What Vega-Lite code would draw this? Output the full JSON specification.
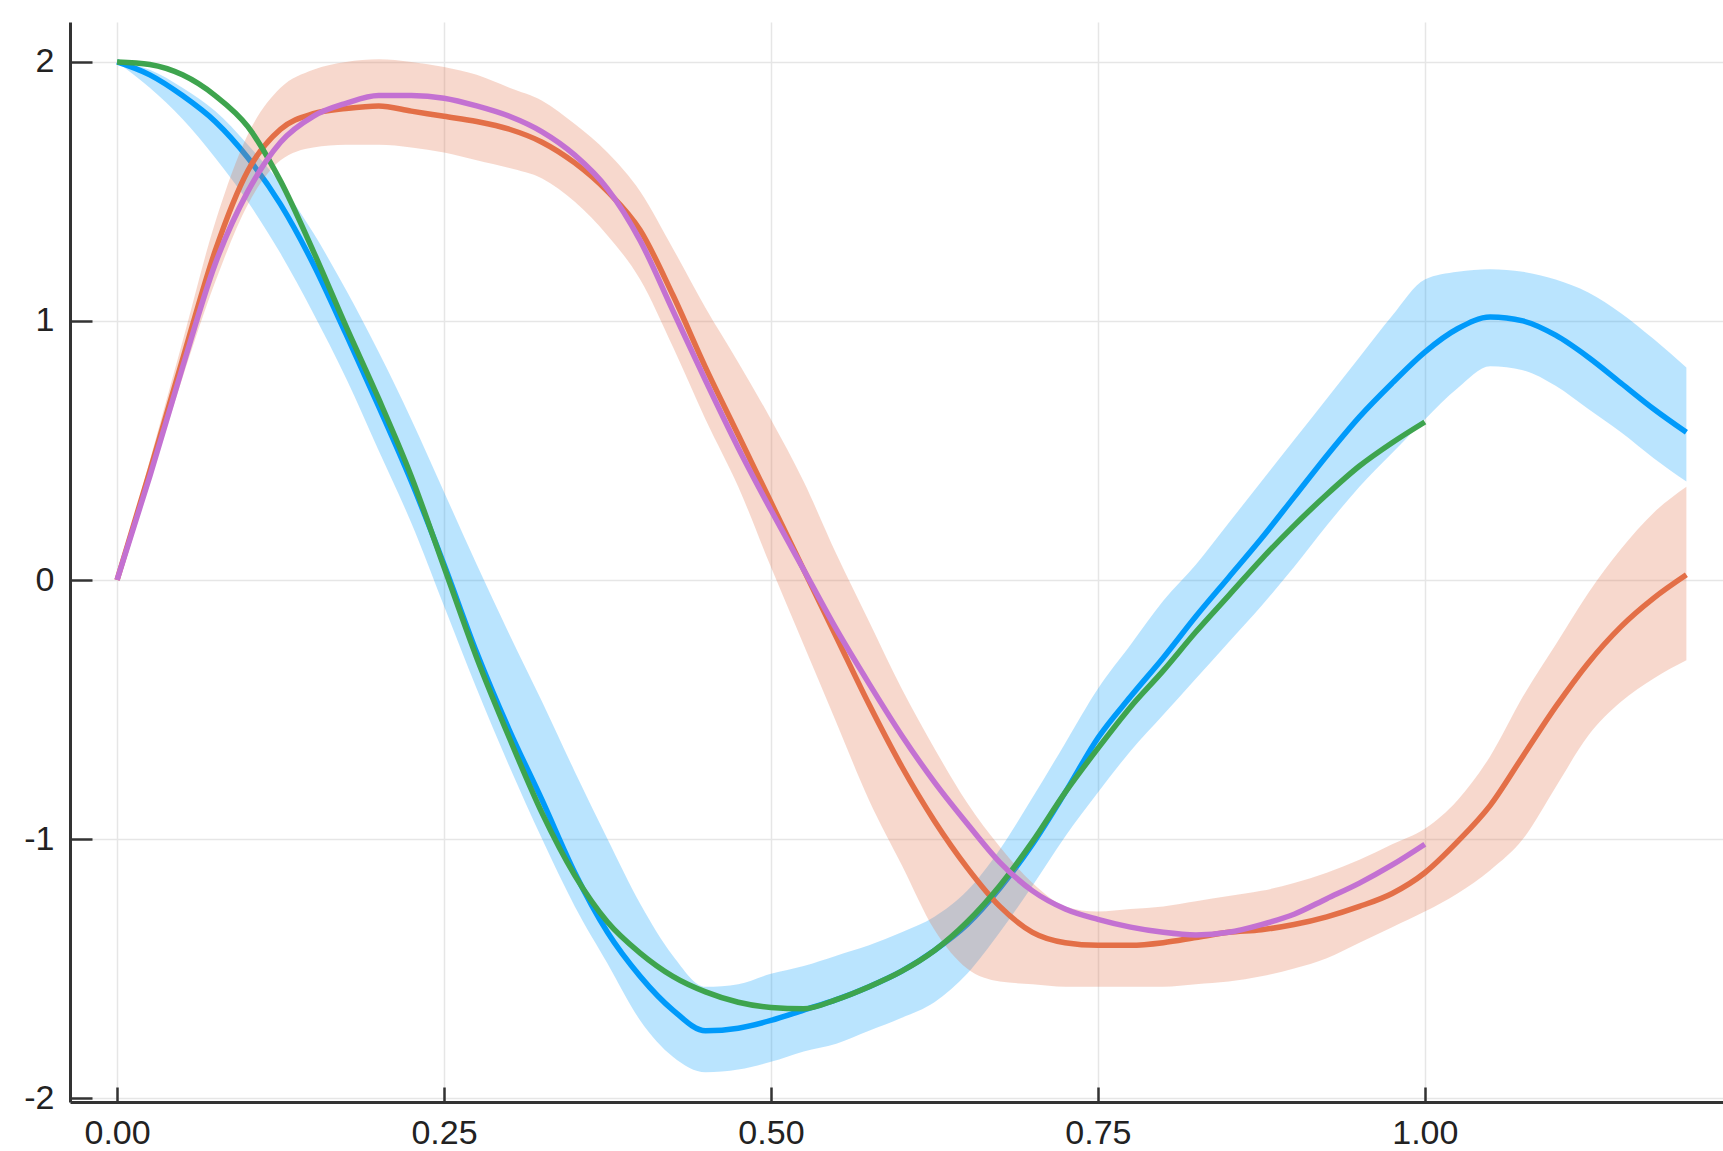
{
  "$schema": "https://vega.github.io/schema/vega-lite/v6.json",
  "autosize": {"type": "none"},
  "width": 1653,
  "height": 1080,
  "padding": {"left": 70, "top": 22, "right": 0, "bottom": 49},
  "background": "white",
  "config": {
    "view": {"stroke": null},
    "axis": {
      "title": null,
      "labelFont": "Liberation Sans",
      "labelFontSize": 34,
      "labelColor": "#222222",
      "domainColor": "#333333",
      "domainWidth": 3,
      "tickColor": "#333333",
      "tickWidth": 2.5,
      "gridColor": "#e6e6e6",
      "gridWidth": 1.5,
      "labelFlush": false,
      "labelOverlap": false
    }
  },
  "datasets": {
    "ens": [
      {"s":"u1","t":0.000,"m":2.00,"lo":2.00,"hi":2.00},
      {"s":"u1","t":0.025,"m":1.95,"lo":1.90,"hi":1.97},
      {"s":"u1","t":0.050,"m":1.87,"lo":1.78,"hi":1.90},
      {"s":"u1","t":0.075,"m":1.77,"lo":1.63,"hi":1.81},
      {"s":"u1","t":0.100,"m":1.63,"lo":1.46,"hi":1.68},
      {"s":"u1","t":0.125,"m":1.45,"lo":1.26,"hi":1.53},
      {"s":"u1","t":0.150,"m":1.22,"lo":1.03,"hi":1.34},
      {"s":"u1","t":0.175,"m":0.95,"lo":0.78,"hi":1.12},
      {"s":"u1","t":0.200,"m":0.67,"lo":0.50,"hi":0.88},
      {"s":"u1","t":0.225,"m":0.38,"lo":0.22,"hi":0.62},
      {"s":"u1","t":0.250,"m":0.06,"lo":-0.10,"hi":0.34},
      {"s":"u1","t":0.275,"m":-0.28,"lo":-0.42,"hi":0.06},
      {"s":"u1","t":0.300,"m":-0.58,"lo":-0.72,"hi":-0.21},
      {"s":"u1","t":0.325,"m":-0.85,"lo":-1.00,"hi":-0.47},
      {"s":"u1","t":0.350,"m":-1.13,"lo":-1.26,"hi":-0.74},
      {"s":"u1","t":0.375,"m":-1.36,"lo":-1.48,"hi":-1.00},
      {"s":"u1","t":0.400,"m":-1.53,"lo":-1.70,"hi":-1.25},
      {"s":"u1","t":0.425,"m":-1.66,"lo":-1.84,"hi":-1.45},
      {"s":"u1","t":0.450,"m":-1.74,"lo":-1.90,"hi":-1.57},
      {"s":"u1","t":0.475,"m":-1.73,"lo":-1.89,"hi":-1.56},
      {"s":"u1","t":0.500,"m":-1.70,"lo":-1.86,"hi":-1.52},
      {"s":"u1","t":0.525,"m":-1.66,"lo":-1.82,"hi":-1.49},
      {"s":"u1","t":0.550,"m":-1.62,"lo":-1.79,"hi":-1.45},
      {"s":"u1","t":0.575,"m":-1.57,"lo":-1.74,"hi":-1.41},
      {"s":"u1","t":0.600,"m":-1.51,"lo":-1.69,"hi":-1.36},
      {"s":"u1","t":0.625,"m":-1.43,"lo":-1.63,"hi":-1.30},
      {"s":"u1","t":0.650,"m":-1.33,"lo":-1.52,"hi":-1.20},
      {"s":"u1","t":0.675,"m":-1.19,"lo":-1.36,"hi":-1.04},
      {"s":"u1","t":0.700,"m":-1.02,"lo":-1.18,"hi":-0.84},
      {"s":"u1","t":0.725,"m":-0.82,"lo":-0.99,"hi":-0.63},
      {"s":"u1","t":0.750,"m":-0.61,"lo":-0.82,"hi":-0.42},
      {"s":"u1","t":0.775,"m":-0.45,"lo":-0.66,"hi":-0.25},
      {"s":"u1","t":0.800,"m":-0.30,"lo":-0.52,"hi":-0.08},
      {"s":"u1","t":0.825,"m":-0.14,"lo":-0.38,"hi":0.06},
      {"s":"u1","t":0.850,"m":0.01,"lo":-0.24,"hi":0.22},
      {"s":"u1","t":0.875,"m":0.16,"lo":-0.10,"hi":0.38},
      {"s":"u1","t":0.900,"m":0.32,"lo":0.05,"hi":0.54},
      {"s":"u1","t":0.925,"m":0.48,"lo":0.21,"hi":0.70},
      {"s":"u1","t":0.950,"m":0.63,"lo":0.36,"hi":0.86},
      {"s":"u1","t":0.975,"m":0.76,"lo":0.49,"hi":1.02},
      {"s":"u1","t":1.000,"m":0.88,"lo":0.62,"hi":1.16},
      {"s":"u1","t":1.025,"m":0.97,"lo":0.74,"hi":1.19},
      {"s":"u1","t":1.050,"m":1.015,"lo":0.825,"hi":1.20},
      {"s":"u1","t":1.075,"m":1.00,"lo":0.81,"hi":1.19},
      {"s":"u1","t":1.100,"m":0.945,"lo":0.75,"hi":1.16},
      {"s":"u1","t":1.125,"m":0.86,"lo":0.66,"hi":1.11},
      {"s":"u1","t":1.150,"m":0.76,"lo":0.57,"hi":1.03},
      {"s":"u1","t":1.175,"m":0.66,"lo":0.47,"hi":0.93},
      {"s":"u1","t":1.200,"m":0.57,"lo":0.38,"hi":0.82},
      {"s":"u2","t":0.000,"m":0.00,"lo":0.00,"hi":0.00},
      {"s":"u2","t":0.025,"m":0.42,"lo":0.38,"hi":0.46},
      {"s":"u2","t":0.050,"m":0.85,"lo":0.78,"hi":0.92},
      {"s":"u2","t":0.075,"m":1.27,"lo":1.15,"hi":1.38},
      {"s":"u2","t":0.100,"m":1.58,"lo":1.45,"hi":1.72},
      {"s":"u2","t":0.125,"m":1.74,"lo":1.62,"hi":1.90},
      {"s":"u2","t":0.150,"m":1.80,"lo":1.67,"hi":1.97},
      {"s":"u2","t":0.175,"m":1.82,"lo":1.68,"hi":2.00},
      {"s":"u2","t":0.200,"m":1.83,"lo":1.68,"hi":2.01},
      {"s":"u2","t":0.225,"m":1.81,"lo":1.67,"hi":2.00},
      {"s":"u2","t":0.250,"m":1.79,"lo":1.65,"hi":1.98},
      {"s":"u2","t":0.275,"m":1.77,"lo":1.62,"hi":1.95},
      {"s":"u2","t":0.300,"m":1.74,"lo":1.59,"hi":1.90},
      {"s":"u2","t":0.325,"m":1.69,"lo":1.55,"hi":1.85},
      {"s":"u2","t":0.350,"m":1.61,"lo":1.46,"hi":1.76},
      {"s":"u2","t":0.375,"m":1.50,"lo":1.33,"hi":1.65},
      {"s":"u2","t":0.400,"m":1.35,"lo":1.16,"hi":1.50},
      {"s":"u2","t":0.425,"m":1.10,"lo":0.90,"hi":1.28},
      {"s":"u2","t":0.450,"m":0.82,"lo":0.62,"hi":1.05},
      {"s":"u2","t":0.475,"m":0.56,"lo":0.36,"hi":0.84},
      {"s":"u2","t":0.500,"m":0.30,"lo":0.05,"hi":0.62},
      {"s":"u2","t":0.525,"m":0.04,"lo":-0.25,"hi":0.38},
      {"s":"u2","t":0.550,"m":-0.22,"lo":-0.55,"hi":0.10},
      {"s":"u2","t":0.575,"m":-0.48,"lo":-0.85,"hi":-0.16},
      {"s":"u2","t":0.600,"m":-0.72,"lo":-1.10,"hi":-0.42},
      {"s":"u2","t":0.625,"m":-0.93,"lo":-1.35,"hi":-0.65},
      {"s":"u2","t":0.650,"m":-1.11,"lo":-1.50,"hi":-0.86},
      {"s":"u2","t":0.675,"m":-1.26,"lo":-1.55,"hi":-1.03},
      {"s":"u2","t":0.700,"m":-1.36,"lo":-1.56,"hi":-1.17},
      {"s":"u2","t":0.725,"m":-1.40,"lo":-1.57,"hi":-1.26},
      {"s":"u2","t":0.750,"m":-1.41,"lo":-1.57,"hi":-1.28},
      {"s":"u2","t":0.775,"m":-1.41,"lo":-1.57,"hi":-1.27},
      {"s":"u2","t":0.800,"m":-1.40,"lo":-1.57,"hi":-1.26},
      {"s":"u2","t":0.825,"m":-1.38,"lo":-1.56,"hi":-1.24},
      {"s":"u2","t":0.850,"m":-1.36,"lo":-1.55,"hi":-1.22},
      {"s":"u2","t":0.875,"m":-1.35,"lo":-1.53,"hi":-1.20},
      {"s":"u2","t":0.900,"m":-1.33,"lo":-1.50,"hi":-1.17},
      {"s":"u2","t":0.925,"m":-1.30,"lo":-1.46,"hi":-1.13},
      {"s":"u2","t":0.950,"m":-1.26,"lo":-1.40,"hi":-1.08},
      {"s":"u2","t":0.975,"m":-1.21,"lo":-1.34,"hi":-1.02},
      {"s":"u2","t":1.000,"m":-1.13,"lo":-1.28,"hi":-0.96},
      {"s":"u2","t":1.025,"m":-1.01,"lo":-1.21,"hi":-0.85},
      {"s":"u2","t":1.050,"m":-0.87,"lo":-1.12,"hi":-0.68},
      {"s":"u2","t":1.075,"m":-0.68,"lo":-1.00,"hi":-0.45},
      {"s":"u2","t":1.100,"m":-0.49,"lo":-0.80,"hi":-0.25},
      {"s":"u2","t":1.125,"m":-0.32,"lo":-0.60,"hi":-0.05},
      {"s":"u2","t":1.150,"m":-0.18,"lo":-0.47,"hi":0.12},
      {"s":"u2","t":1.175,"m":-0.07,"lo":-0.38,"hi":0.26},
      {"s":"u2","t":1.200,"m":0.02,"lo":-0.31,"hi":0.36}
    ],
    "truth": [
      {"s":"u1","t":0.000,"v":2.00},{"s":"u1","t":0.025,"v":1.99},{"s":"u1","t":0.050,"v":1.95},
      {"s":"u1","t":0.075,"v":1.87},{"s":"u1","t":0.100,"v":1.75},{"s":"u1","t":0.125,"v":1.54},
      {"s":"u1","t":0.150,"v":1.27},{"s":"u1","t":0.175,"v":0.98},{"s":"u1","t":0.200,"v":0.70},
      {"s":"u1","t":0.225,"v":0.40},{"s":"u1","t":0.250,"v":0.05},{"s":"u1","t":0.275,"v":-0.30},
      {"s":"u1","t":0.300,"v":-0.61},{"s":"u1","t":0.325,"v":-0.90},{"s":"u1","t":0.350,"v":-1.14},
      {"s":"u1","t":0.375,"v":-1.32},{"s":"u1","t":0.400,"v":-1.44},{"s":"u1","t":0.425,"v":-1.53},
      {"s":"u1","t":0.450,"v":-1.59},{"s":"u1","t":0.475,"v":-1.63},{"s":"u1","t":0.500,"v":-1.65},
      {"s":"u1","t":0.525,"v":-1.655},{"s":"u1","t":0.550,"v":-1.62},{"s":"u1","t":0.575,"v":-1.57},
      {"s":"u1","t":0.600,"v":-1.51},{"s":"u1","t":0.625,"v":-1.43},{"s":"u1","t":0.650,"v":-1.32},
      {"s":"u1","t":0.675,"v":-1.18},{"s":"u1","t":0.700,"v":-1.01},{"s":"u1","t":0.725,"v":-0.82},
      {"s":"u1","t":0.750,"v":-0.65},{"s":"u1","t":0.775,"v":-0.49},{"s":"u1","t":0.800,"v":-0.35},
      {"s":"u1","t":0.825,"v":-0.20},{"s":"u1","t":0.850,"v":-0.06},{"s":"u1","t":0.875,"v":0.08},
      {"s":"u1","t":0.900,"v":0.21},{"s":"u1","t":0.925,"v":0.33},{"s":"u1","t":0.950,"v":0.44},
      {"s":"u1","t":0.975,"v":0.53},{"s":"u1","t":1.000,"v":0.61},
      {"s":"u2","t":0.000,"v":0.00},{"s":"u2","t":0.025,"v":0.40},{"s":"u2","t":0.050,"v":0.82},
      {"s":"u2","t":0.075,"v":1.22},{"s":"u2","t":0.100,"v":1.50},{"s":"u2","t":0.125,"v":1.69},
      {"s":"u2","t":0.150,"v":1.79},{"s":"u2","t":0.175,"v":1.84},{"s":"u2","t":0.200,"v":1.87},
      {"s":"u2","t":0.225,"v":1.87},{"s":"u2","t":0.250,"v":1.86},{"s":"u2","t":0.275,"v":1.83},
      {"s":"u2","t":0.300,"v":1.79},{"s":"u2","t":0.325,"v":1.73},{"s":"u2","t":0.350,"v":1.64},
      {"s":"u2","t":0.375,"v":1.51},{"s":"u2","t":0.400,"v":1.31},{"s":"u2","t":0.425,"v":1.04},
      {"s":"u2","t":0.450,"v":0.77},{"s":"u2","t":0.475,"v":0.51},{"s":"u2","t":0.500,"v":0.27},
      {"s":"u2","t":0.525,"v":0.04},{"s":"u2","t":0.550,"v":-0.19},{"s":"u2","t":0.575,"v":-0.40},
      {"s":"u2","t":0.600,"v":-0.60},{"s":"u2","t":0.625,"v":-0.78},{"s":"u2","t":0.650,"v":-0.94},
      {"s":"u2","t":0.675,"v":-1.09},{"s":"u2","t":0.700,"v":-1.20},{"s":"u2","t":0.725,"v":-1.27},
      {"s":"u2","t":0.750,"v":-1.31},{"s":"u2","t":0.775,"v":-1.34},{"s":"u2","t":0.800,"v":-1.36},
      {"s":"u2","t":0.825,"v":-1.37},{"s":"u2","t":0.850,"v":-1.36},{"s":"u2","t":0.875,"v":-1.33},
      {"s":"u2","t":0.900,"v":-1.29},{"s":"u2","t":0.925,"v":-1.23},{"s":"u2","t":0.950,"v":-1.17},
      {"s":"u2","t":0.975,"v":-1.10},{"s":"u2","t":1.000,"v":-1.02}
    ]
  },
  "encoding": {
    "x": {
      "field": "t",
      "type": "quantitative",
      "scale": {"domain": [-0.036, 1.228], "nice": false, "zero": false},
      "axis": {
        "values": [0, 0.25, 0.5, 0.75, 1.0],
        "format": ".2f",
        "tickSize": -15,
        "labelPadding": 29
      }
    }
  },
  "layer": [
    {
      "data": {"name": "ens"},
      "transform": [{"filter": "datum.s === 'u1'"}],
      "mark": {"type": "area", "color": "#009AFA", "opacity": 0.27, "interpolate": "monotone"},
      "encoding": {
        "y": {
          "field": "lo", "type": "quantitative",
          "scale": {"domain": [-2.015, 2.154], "nice": false, "zero": false},
          "axis": {
            "values": [-2, -1, 0, 1, 2],
            "labelExpr": "'' + datum.value",
            "tickSize": -22,
            "labelPadding": 38
          }
        },
        "y2": {"field": "hi"}
      }
    },
    {
      "data": {"name": "ens"},
      "transform": [{"filter": "datum.s === 'u1'"}],
      "mark": {"type": "line", "color": "#009AFA", "strokeWidth": 5.5, "interpolate": "monotone"},
      "encoding": {
        "y": {"field": "m", "type": "quantitative", "scale": {"domain": [-2.015, 2.154], "nice": false, "zero": false}}
      }
    },
    {
      "data": {"name": "ens"},
      "transform": [{"filter": "datum.s === 'u2'"}],
      "mark": {"type": "area", "color": "#E36F47", "opacity": 0.27, "interpolate": "monotone"},
      "encoding": {
        "y": {"field": "lo", "type": "quantitative", "scale": {"domain": [-2.015, 2.154], "nice": false, "zero": false}},
        "y2": {"field": "hi"}
      }
    },
    {
      "data": {"name": "ens"},
      "transform": [{"filter": "datum.s === 'u2'"}],
      "mark": {"type": "line", "color": "#E36F47", "strokeWidth": 5.5, "interpolate": "monotone"},
      "encoding": {
        "y": {"field": "m", "type": "quantitative", "scale": {"domain": [-2.015, 2.154], "nice": false, "zero": false}}
      }
    },
    {
      "data": {"name": "truth"},
      "transform": [{"filter": "datum.s === 'u1'"}],
      "mark": {"type": "line", "color": "#3EA44E", "strokeWidth": 5.5, "interpolate": "monotone"},
      "encoding": {
        "y": {"field": "v", "type": "quantitative", "scale": {"domain": [-2.015, 2.154], "nice": false, "zero": false}}
      }
    },
    {
      "data": {"name": "truth"},
      "transform": [{"filter": "datum.s === 'u2'"}],
      "mark": {"type": "line", "color": "#C371D2", "strokeWidth": 5.5, "interpolate": "monotone"},
      "encoding": {
        "y": {"field": "v", "type": "quantitative", "scale": {"domain": [-2.015, 2.154], "nice": false, "zero": false}}
      }
    }
  ]
}
